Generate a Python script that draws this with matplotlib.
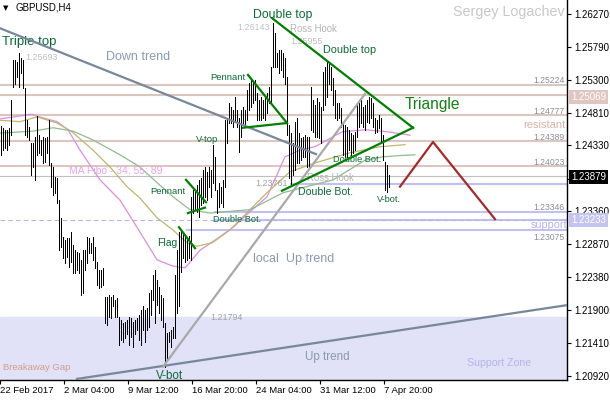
import numpy as np
import matplotlib.pyplot as plt
from matplotlib.ticker import FuncFormatter

# GBPUSD H4 bars: highs / lows (one bar per 2 px)
highs = [1.2461, 1.2458, 1.2456, 1.2456, 1.2458, 1.2500, 1.2559, 1.2559, 1.2556, 1.2569,
         1.2562, 1.2559, 1.2518, 1.2470, 1.2460, 1.2436, 1.2436, 1.2445, 1.2476, 1.2448,
         1.2441, 1.2445, 1.2444, 1.2445, 1.2470, 1.2407, 1.2401, 1.2386, 1.2385, 1.2352,
         1.2326, 1.2297, 1.2293, 1.2296, 1.2296, 1.2305, 1.2286, 1.2278, 1.2275, 1.2274,
         1.2264, 1.2278, 1.2278, 1.2297, 1.2296, 1.2289, 1.2297, 1.2283, 1.2261, 1.2249,
         1.2249, 1.2252, 1.2209, 1.2209, 1.2212, 1.2209, 1.2212, 1.2205, 1.2208, 1.2180,
         1.2175, 1.2171, 1.2172, 1.2175, 1.2180, 1.2178, 1.2172, 1.2175, 1.2178, 1.2183,
         1.2190, 1.2195, 1.2190, 1.2193, 1.2215, 1.2219, 1.2241, 1.2249, 1.2234, 1.2224,
         1.2212, 1.2208, 1.2171, 1.2156, 1.2158, 1.2160, 1.2164, 1.2241, 1.2278, 1.2305,
         1.2308, 1.2305, 1.2301, 1.2296, 1.2299, 1.2357, 1.2367, 1.2364, 1.2374, 1.2382,
         1.2385, 1.2397, 1.2401, 1.2394, 1.2401, 1.2397, 1.2433, 1.2416, 1.2367, 1.2377,
         1.2371, 1.2382, 1.2470, 1.2470, 1.2495, 1.2490, 1.2485, 1.2504, 1.2485, 1.2474,
         1.2485, 1.2490, 1.2485, 1.2515, 1.2525, 1.2530, 1.2525, 1.2530, 1.2510, 1.2500,
         1.2504, 1.2500, 1.2504, 1.2510, 1.2519, 1.2549, 1.2614, 1.2599, 1.2569, 1.2574,
         1.2574, 1.2569, 1.2562, 1.2534, 1.2463, 1.2451, 1.2436, 1.2467, 1.2473, 1.2451,
         1.2444, 1.2445, 1.2448, 1.2445, 1.2445, 1.2519, 1.2500, 1.2493, 1.2503, 1.2497,
         1.2490, 1.2542, 1.2549, 1.2556, 1.2555, 1.2549, 1.2533, 1.2515, 1.2495, 1.2495,
         1.2488, 1.2466, 1.2463, 1.2460, 1.2456, 1.2451, 1.2448, 1.2453, 1.2493, 1.2495,
         1.2500, 1.2490, 1.2493, 1.2500, 1.2504, 1.2503, 1.2495, 1.2474, 1.2470, 1.2478,
         1.2473, 1.2448, 1.2408, 1.2404, 1.2389]
lows = [1.2419, 1.2426, 1.2429, 1.2426, 1.2433, 1.2448, 1.2519, 1.2524, 1.2534, 1.2519,
        1.2540, 1.2518, 1.2448, 1.2445, 1.2441, 1.2389, 1.2401, 1.2382, 1.2419, 1.2422,
        1.2419, 1.2407, 1.2408, 1.2422, 1.2404, 1.2371, 1.2360, 1.2363, 1.2348, 1.2278,
        1.2283, 1.2267, 1.2259, 1.2268, 1.2253, 1.2261, 1.2244, 1.2244, 1.2249, 1.2244,
        1.2212, 1.2215, 1.2249, 1.2259, 1.2274, 1.2274, 1.2264, 1.2252, 1.2227, 1.2222,
        1.2224, 1.2227, 1.2171, 1.2168, 1.2180, 1.2178, 1.2195, 1.2180, 1.2180, 1.2138,
        1.2146, 1.2143, 1.2148, 1.2155, 1.2138, 1.2150, 1.2135, 1.2155, 1.2160, 1.2146,
        1.2138, 1.2160, 1.2143, 1.2160, 1.2165, 1.2183, 1.2205, 1.2171, 1.2197, 1.2186,
        1.2175, 1.2165, 1.2106, 1.2116, 1.2143, 1.2135, 1.2148, 1.2148, 1.2186, 1.2195,
        1.2246, 1.2267, 1.2261, 1.2264, 1.2267, 1.2264, 1.2333, 1.2338, 1.2335, 1.2327,
        1.2345, 1.2348, 1.2357, 1.2352, 1.2371, 1.2357, 1.2377, 1.2367, 1.2333, 1.2342,
        1.2348, 1.2342, 1.2371, 1.2436, 1.2466, 1.2466, 1.2460, 1.2470, 1.2460, 1.2423,
        1.2445, 1.2466, 1.2460, 1.2470, 1.2485, 1.2490, 1.2495, 1.2500, 1.2470, 1.2470,
        1.2470, 1.2474, 1.2470, 1.2481, 1.2495, 1.2495, 1.2549, 1.2549, 1.2549, 1.2540,
        1.2544, 1.2534, 1.2524, 1.2448, 1.2385, 1.2376, 1.2389, 1.2397, 1.2407, 1.2407,
        1.2411, 1.2416, 1.2416, 1.2401, 1.2401, 1.2456, 1.2453, 1.2445, 1.2445, 1.2444,
        1.2436, 1.2485, 1.2493, 1.2504, 1.2524, 1.2515, 1.2493, 1.2474, 1.2470, 1.2474,
        1.2460, 1.2419, 1.2416, 1.2416, 1.2426, 1.2419, 1.2422, 1.2426, 1.2445, 1.2460,
        1.2466, 1.2460, 1.2456, 1.2467, 1.2466, 1.2474, 1.2460, 1.2451, 1.2453, 1.2458,
        1.2436, 1.2411, 1.2367, 1.2364, 1.2371]
last_price = 1.23879

# moving averages (MA Fibo 34/55/89), read at sample bars
ma34_bar = [-0.5, 15.5, 18, 28, 33.5, 39.5, 49.5, 59.5, 68, 78, 85.5, 92, 99.5, 109.5,
            116, 124.5, 133, 142, 149.5, 157, 170.5, 182, 193.5, 204.5]
ma34_val = [1.2472, 1.2479, 1.2476, 1.2468, 1.2456, 1.2426, 1.2382, 1.2352, 1.2312, 1.2264,
            1.2255, 1.2252, 1.2278, 1.2298, 1.2312, 1.2335, 1.2357, 1.2416, 1.2426, 1.2431,
            1.2453, 1.2456, 1.2453, 1.2448]
ma55_bar = [-0.5, 9.5, 18, 28, 35.5, 46, 54.5, 63, 69.5, 78, 86, 93, 98, 105.5, 114.5,
            124.5, 133, 144.5, 158, 174.5, 189.5, 202]
ma55_val = [1.2470, 1.2468, 1.2475, 1.2466, 1.2453, 1.2426, 1.2401, 1.2372, 1.2355, 1.2326,
            1.2308, 1.2289, 1.2284, 1.2289, 1.2308, 1.2338, 1.2363, 1.2394, 1.2408, 1.2422,
            1.2431, 1.2434]
ma89_bar = [-0.5, 16, 26, 36, 46, 59.5, 69.5, 78, 86, 94.5, 104.5, 124.5, 141, 166, 182,
            191, 199.5, 207]
ma89_val = [1.2451, 1.2454, 1.2459, 1.2454, 1.2441, 1.2419, 1.2401, 1.2378, 1.2357, 1.2338,
            1.2333, 1.2338, 1.2363, 1.2382, 1.2411, 1.2416, 1.2418, 1.2419]

# horizontal levels
resist_levels = [1.25224, 1.25069, 1.24777, 1.24389, 1.24023]
resist_labels = ['1.25224', '', '1.24777', '1.24389', '1.24023']
support_levels = [1.23761, 1.23346, 1.23233, 1.23075]
support_start = [145, 107, 107, 93]
support_labels = ['', '1.23346', '', '1.23075']
zone_top = 1.21794

# drawn objects: (bar, price) end points
down_trend = [(-0.5, 1.2606), (157.5, 1.2420)]
up_trend = [(38, 1.2088), (283, 1.2197)]
local_up = [(81, 1.2106), (182, 1.2509)]
green_lines = [
    [(89, 1.2312), (97, 1.2281)],        # flag
    [(92.5, 1.2382), (102.5, 1.2349)],   # pennant 1
    [(93.5, 1.2333), (102, 1.2341)],
    [(123.5, 1.2537), (143, 1.2466)],    # pennant 2
    [(121, 1.2459), (143, 1.2466)],
    [(135.5, 1.2621), (206, 1.2459)],    # triangle
    [(140.5, 1.2366), (206, 1.2459)],
]
forecast = [(199.5, 1.2372), (216, 1.2438), (247, 1.2324)]

yticks = [1.26270, 1.25790, 1.25300, 1.24810, 1.24330, 1.23840, 1.23360,
          1.22870, 1.22380, 1.21900, 1.21410, 1.20920]
xtick_bars = [-0.5, 31.5, 63.5, 95.5, 127.5, 159.5, 191.5]
xtick_labels = ['22 Feb 2017', '2 Mar 04:00', '9 Mar 12:00', '16 Mar 20:00',
                '24 Mar 04:00', '31 Mar 12:00', '7 Apr 20:00']

plt.rcParams['font.family'] = ['Liberation Sans', 'DejaVu Sans']

fig = plt.figure(figsize=(6.1, 4.0), dpi=100)
ax = fig.add_axes([0, 0.05, 567 / 610, 0.95])
ax.set_xlim(-0.5, 283)
ax.set_ylim(1.20864, 1.26477)

W, H = 567.0, 380.0


def put(xp, yp, s, **kw):
    ax.text(xp / W, 1 - yp / H, s, transform=ax.transAxes, va='center', **kw)


# support zone
ax.axhspan(1.20, zone_top, color='#e1e1f7', zorder=0)

# levels
for lv in resist_levels:
    ax.axhline(lv, color='#dcc6c0', lw=1.5, zorder=1)
for lv, st in zip(support_levels, support_start):
    ax.plot([st, 283], [lv, lv], color='#c0c0f2', lw=1.5, zorder=1)
ax.axhline(1.23233, color='#b4b4f0', lw=0.8, ls=(0, (4, 3)), zorder=1)
ax.axhline(last_price, color='#c0c0c0', lw=0.8, zorder=1)

# moving averages
ax.plot(ma34_bar, ma34_val, color='#e08ce0', lw=0.9, zorder=2)
ax.plot(ma55_bar, ma55_val, color='#bdb76b', lw=0.9, zorder=2)
ax.plot(ma89_bar, ma89_val, color='#8fbc8f', lw=0.9, zorder=2)

# bars, 1 px wide
bars = np.arange(len(highs))
ax.vlines(bars, lows, highs, color='black', lw=0.72, zorder=3, antialiased=False)

# trend lines
for seg, col in [(down_trend, '#778899'), (up_trend, '#778899'), (local_up, '#a9a9a9')]:
    ax.plot([p[0] for p in seg], [p[1] for p in seg], color=col, lw=1.6, zorder=4)
for seg in green_lines:
    ax.plot([p[0] for p in seg], [p[1] for p in seg], color='#008000', lw=1.6, zorder=4)
ax.plot([p[0] for p in forecast], [p[1] for p in forecast], color='#a52a2a', lw=1.6, zorder=4)

# texts
g = '#0b6a35'
put(2, 42, 'Triple top', color=g, fontsize=9.5)
put(106, 57, 'Down trend', color='#8a9ab0', fontsize=9)
put(253, 15, 'Double top', color=g, fontsize=8.8)
put(323, 50, 'Double top', color=g, fontsize=7.8)
put(290, 29, 'Ross Hook', color='#b4b4b4', fontsize=6.9)
put(237, 27, '1.26143', color='#c0c0c0', fontsize=6.4)
put(290, 42, '1.25955', color='#c0c0c0', fontsize=6.4)
put(25, 58, '1.25693', color='#c0c0c0', fontsize=6.4)
put(210, 77, 'Pennant', color=g, fontsize=6.8)
put(405, 104, 'Triangle', color='#108010', fontsize=11.2)
put(196, 139, 'V-top', color=g, fontsize=6.8)
put(69, 170, 'MA Fibo - 34; 55; 89', color='#e6a6e6', fontsize=7.5)
put(255, 184, '1.23761', color='#a0a0a0', fontsize=6.4)
put(307, 178, 'Ross Hook', color='#b4b4b4', fontsize=6.9)
put(333, 160, 'Double Bot.', color=g, fontsize=6.6)
put(298, 192, 'Double Bot.', color=g, fontsize=7.6)
put(377, 200, 'V-bot.', color=g, fontsize=6.6)
put(150, 192, 'Pennant', color=g, fontsize=6.8)
put(213, 220, 'Double Bot.', color=g, fontsize=6.6)
put(157, 243, 'Flag', color=g, fontsize=7.5)
put(253, 259, 'local  Up trend', color='#8a9ab0', fontsize=9)
put(210, 318, '1.21794', color='#a0a0a0', fontsize=6.4)
put(305, 357, 'Up trend', color='#8a9ab0', fontsize=8.4)
put(3, 368, 'Breakaway Gap', color='#d2a08c', fontsize=6.8)
put(156, 376, 'V-bot', color=g, fontsize=8.4)
put(467, 363, 'Support Zone', color='#b4b4ee', fontsize=7.6)
put(565, 12, 'Sergey Logachev', color='#c8c8c8', fontsize=10.3, ha='right')
put(566, 125, 'resistant', color='#d8b4a8', fontsize=8, ha='right')
put(567, 225, 'support', color='#b4b4ee', fontsize=7.8, ha='right')
put(16, 8, 'GBPUSD,H4', color='black', fontsize=7)
put(3, 8, '\u25bc', color='black', fontsize=5, family='DejaVu Sans')
for lv, lb in zip(resist_levels, resist_labels):
    if lb:
        ax.text(282, lv + 0.0006, lb, ha='right', va='center', color='#8c8c9a', fontsize=6.2)
for lv, lb in zip(support_levels, support_labels):
    if lb:
        off = 0.0006 if lb == '1.23346' else -0.0011
        ax.text(282, lv + off, lb, ha='right', va='center', color='#8c8c9a', fontsize=6.2)

# axes styling
for s in ['top', 'left']:
    ax.spines[s].set_visible(False)
ax.spines['right'].set_linewidth(1)
ax.spines['bottom'].set_linewidth(1)
ax.yaxis.tick_right()
ax.set_yticks(yticks)
# the 1.23840 label sits under the current-price box, so leave it blank
ax.yaxis.set_major_formatter(FuncFormatter(lambda v, p: '' if abs(v - 1.2384) < 1e-6 else '%.5f' % v))
ax.tick_params(axis='y', length=3, width=0.8, labelsize=7, pad=2)
ax.set_xticks(xtick_bars)
ax.set_xticklabels(xtick_labels)
for lbl in ax.get_xticklabels():
    lbl.set_horizontalalignment('left')
ax.tick_params(axis='x', length=3, width=0.8, labelsize=6.8, pad=1)

# price boxes on the scale
fig.text(571 / 610, 1 - 97 / 400, '1.25069', color='white', fontsize=7, va='center',
         bbox=dict(facecolor='#e0c6c0', edgecolor='none', pad=1.6))
fig.text(571 / 610, 1 - 177 / 400, '1.23879', color='white', fontsize=7, va='center',
         bbox=dict(facecolor='black', edgecolor='none', pad=1.6))
fig.text(571 / 610, 1 - 220 / 400, '1.23233', color='white', fontsize=7, va='center',
         bbox=dict(facecolor='#c4c4f2', edgecolor='none', pad=1.6))

fig.savefig('out.png', dpi=100)
